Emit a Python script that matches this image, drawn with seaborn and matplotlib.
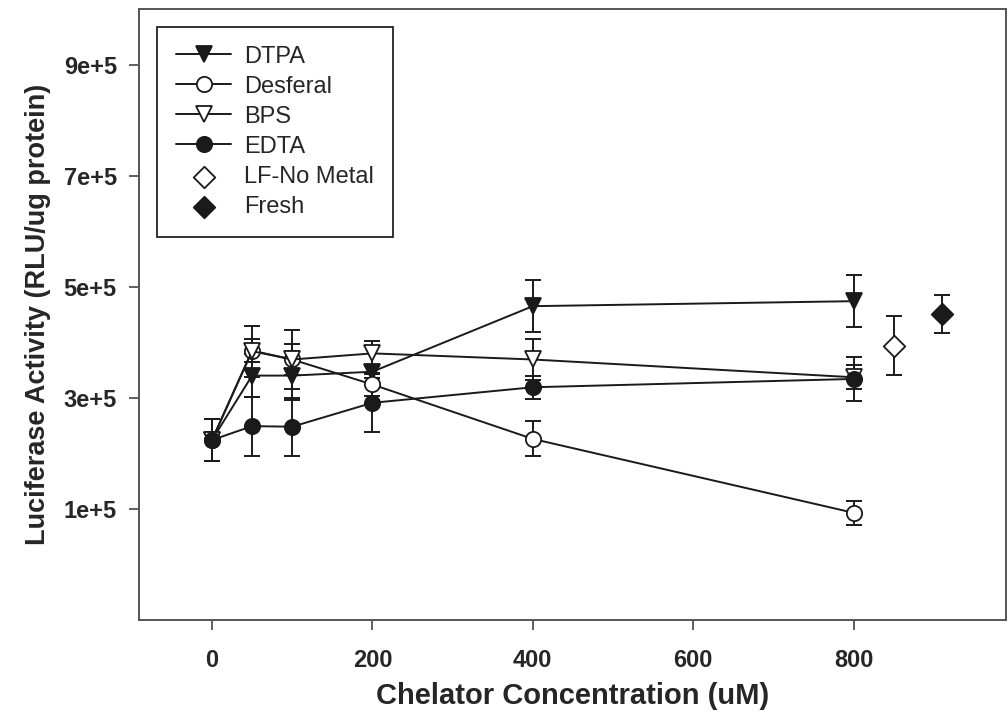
import matplotlib
matplotlib.use("Agg")
import matplotlib.pyplot as plt
import numpy as np
import pandas as pd
import seaborn as sns

# Values
conc = [0, 50, 100, 200, 400, 800]

dtpa = [224000, 340000, 340000, 347000, 465000, 474000]
dtpa_err = [38000, 39000, 44000, 12000, 47000, 47000]

desferal = [224000, 385000, 369000, 324000, 226000, 93000]
desferal_err = [38000, 20000, 28000, 21000, 31500, 21500]

bps = [224000, 384000, 369000, 380000, 369000, 337000]
bps_err = [38000, 46000, 53000, 22600, 37400, 22000]

edta = [224000, 249000, 248000, 291000, 319000, 334000]
edta_err = [38000, 53000, 52000, 52000, 21000, 40000]

lf_x, lf_y, lf_err = [850], [394000], [53500]
fresh_x, fresh_y, fresh_err = [910], [451000], [34000]

ink = "#1a1a1a"

sns.set_theme(style="white")
plt.rcParams["font.family"] = ["Liberation Sans", "DejaVu Sans"]

fig = plt.figure(figsize=(10.08, 7.28), dpi=100)
ax = fig.add_axes([139 / 1008, 108 / 728, 867 / 1008, 611 / 728])

series = [
    ("DTPA", dtpa, dtpa_err, "v", ink),
    ("Desferal", desferal, desferal_err, "o", "white"),
    ("BPS", bps, bps_err, "v", "white"),
    ("EDTA", edta, edta_err, "o", ink),
]

for name, vals, errs, mk, face in series:
    df = pd.DataFrame({"conc": conc, "value": vals})
    ax.errorbar(conc, vals, yerr=errs, fmt="none", ecolor=ink,
                elinewidth=1.4, capsize=6, capthick=1.4, zorder=2)
    sns.lineplot(data=df, x="conc", y="value", ax=ax, color=ink,
                 linewidth=1.4, marker=mk, markersize=11,
                 markerfacecolor=face, markeredgecolor=ink,
                 markeredgewidth=1.3, label=name, zorder=3)

for name, xs, ys, errs, face in [("LF-No Metal", lf_x, lf_y, lf_err, "white"),
                                  ("Fresh", fresh_x, fresh_y, fresh_err, ink)]:
    ax.errorbar(xs, ys, yerr=errs, fmt="none", ecolor=ink,
                elinewidth=1.4, capsize=6, capthick=1.4, zorder=2)
    sns.scatterplot(x=xs, y=ys, ax=ax, marker="D", s=120,
                    facecolor=face, edgecolor=ink, linewidth=1.3,
                    label=name, zorder=3)

ax.set_xlim(-91, 990)
ax.set_ylim(-100000, 1000000)

ax.set_xticks([0, 200, 400, 600, 800])
ax.set_xticklabels(["0", "200", "400", "600", "800"],
                   family=["Liberation Sans Narrow", "Liberation Sans"],
                   fontweight="bold", fontsize=17)
ax.set_yticks([100000, 300000, 500000, 700000, 900000])
ax.set_yticklabels(["1e+5", "3e+5", "5e+5", "7e+5", "9e+5"],
                   fontweight="bold", fontsize=17)

ax.tick_params(axis="x", direction="out", length=7, width=1.2,
               color="#444444", pad=14, bottom=True)
ax.tick_params(axis="y", direction="out", length=7, width=1.2,
               color="#444444", pad=9, left=True)

for sp in ax.spines.values():
    sp.set_color("#555555")
    sp.set_linewidth(1.4)

ax.set_xlabel("Chelator Concentration (uM)",
              family=["Liberation Sans Narrow", "Liberation Sans"],
              fontweight="bold", fontsize=21, labelpad=7)
ax.set_ylabel("Luciferase Activity (RLU/ug protein)",
              fontweight="bold", fontsize=19.5, labelpad=9)

leg = ax.legend(loc="upper left", bbox_to_anchor=(0.021, 0.971),
                borderaxespad=0, fontsize=17, frameon=True, fancybox=False,
                edgecolor="#222222", framealpha=1, handlelength=2.33,
                handletextpad=0.55, labelspacing=0.34, borderpad=0.8)
leg.get_frame().set_linewidth(1.3)

plt.savefig("out.png", dpi=100)
plt.close()
